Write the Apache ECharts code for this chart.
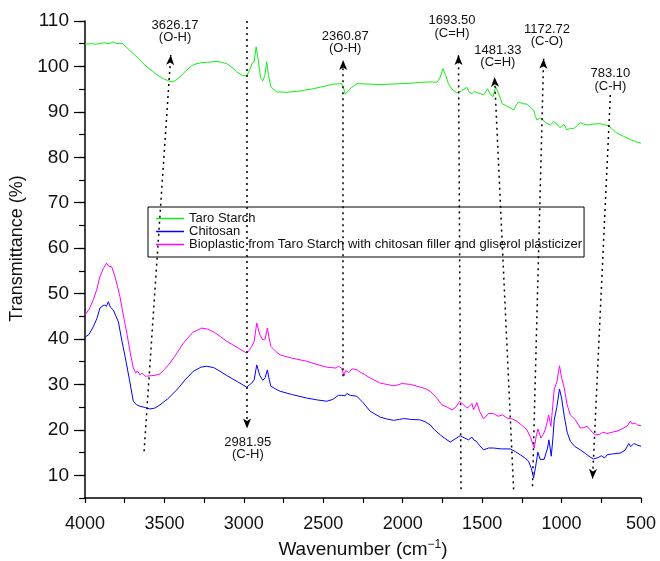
<!DOCTYPE html>
<html>
<head>
<meta charset="utf-8">
<script src="https://cdn.jsdelivr.net/npm/echarts@6/dist/echarts.min.js"></script>
<style>
  html, body { margin: 0; padding: 0; background: #fff; }
  #main { width: 660px; height: 561px; }
</style>
</head>
<body>
<div id="main"></div>
<script>
// FTIR spectra, [wavenumber, transmittance]
const taroStarch = [
  [4000,104.9],[3960,105.0],[3930,104.9],[3905,105.0],[3880,105.2],[3850,105.0],[3822,105.4],[3800,105.0],[3780,105.1],[3759,104.9],
  [3730,103.9],[3696,102.8],[3665,101.8],[3633,100.6],[3600,99.6],[3570,98.8],[3540,98.0],[3507,97.3],[3480,96.9],[3454,96.6],
  [3430,96.9],[3402,97.7],[3360,99.2],[3318,100.4],[3270,100.8],[3234,100.9],[3170,101.1],[3140,100.9],[3108,100.6],[3075,99.8],
  [3045,98.8],[3010,98.0],[2982,97.9],[2960,99.5],[2950,100.6],[2935,101.0],[2923,104.3],[2910,101.5],[2895,97.5],[2881,96.8],
  [2868,98.0],[2856,101.0],[2845,98.0],[2830,95.5],[2793,94.4],[2730,94.3],[2667,94.5],[2562,95.1],[2436,96.1],[2383,96.2],
  [2370,95.0],[2362,93.9],[2345,94.5],[2331,95.1],[2289,96.2],[2205,96.1],[2142,96.0],[2080,96.1],[2016,96.2],[1950,96.3],
  [1890,96.5],[1820,96.6],[1785,96.5],[1765,97.5],[1747,99.5],[1730,98.0],[1712,96.2],[1690,95.0],[1659,94.2],[1630,94.6],
  [1596,95.4],[1580,94.3],[1564,94.0],[1550,94.5],[1533,94.2],[1510,94.0],[1491,93.7],[1475,94.5],[1466,95.1],[1450,94.0],
  [1432,93.3],[1415,95.5],[1403,95.9],[1390,93.5],[1375,91.8],[1340,91.2],[1302,90.4],[1285,91.5],[1271,92.2],[1245,91.8],
  [1218,91.7],[1195,91.0],[1176,90.4],[1165,89.0],[1155,88.2],[1140,88.6],[1124,88.5],[1100,87.6],[1071,87.1],[1050,87.8],
  [1029,87.3],[1010,86.5],[998,86.6],[985,87.2],[966,86.0],[945,86.4],[924,86.3],[900,87.0],[882,87.6],[860,87.3],
  [840,87.1],[800,87.3],[756,87.4],[704,86.9],[680,86.2],[651,85.3],[610,84.6],[567,83.9],[530,83.4],[500,83.1]
];
const chitosan = [
  [4000,40.4],[3975,41.0],[3948,42.7],[3925,44.5],[3906,46.8],[3880,47.5],[3865,47.2],[3853,48.2],[3840,47.0],[3822,46.4],
  [3805,45.0],[3790,43.8],[3770,40.0],[3748,36.2],[3720,31.0],[3696,26.3],[3675,25.5],[3654,25.2],[3620,24.9],[3591,24.6],
  [3560,24.8],[3528,25.5],[3480,26.8],[3422,28.8],[3370,31.0],[3318,32.9],[3270,33.8],[3234,34.0],[3190,33.7],[3150,32.9],
  [3100,31.8],[3040,30.6],[2982,29.4],[2965,29.9],[2950,30.3],[2935,31.0],[2919,34.3],[2900,32.0],[2881,30.9],[2866,31.5],
  [2852,33.2],[2840,31.0],[2830,29.6],[2800,29.0],[2772,28.5],[2700,27.8],[2604,27.0],[2540,26.6],[2478,26.3],[2440,26.7],
  [2405,27.6],[2385,27.6],[2373,27.2],[2362,27.5],[2352,28.0],[2330,27.6],[2289,27.4],[2250,26.0],[2205,24.1],[2142,22.8],
  [2100,22.4],[2058,22.1],[2020,22.3],[1995,22.5],[1950,22.3],[1890,22.2],[1860,21.8],[1827,21.1],[1800,20.0],[1764,18.9],
  [1730,18.0],[1701,17.3],[1670,18.0],[1638,18.7],[1610,18.2],[1586,17.8],[1564,18.4],[1550,17.7],[1537,17.5],[1515,16.5],
  [1491,15.6],[1460,16.0],[1428,16.0],[1380,15.8],[1323,15.8],[1290,15.2],[1260,14.5],[1230,13.8],[1208,13.1],[1190,11.5],
  [1176,9.4],[1163,12.0],[1149,15.1],[1135,13.5],[1124,13.1],[1110,13.5],[1098,13.8],[1088,16.0],[1080,17.8],[1072,16.0],
  [1065,14.2],[1055,18.0],[1046,22.2],[1030,25.0],[1013,29.0],[1000,27.0],[983,23.0],[965,19.5],[945,17.5],[915,16.3],
  [882,15.6],[850,14.8],[820,14.0],[798,13.6],[770,13.9],[750,14.3],[730,13.8],[714,14.5],[680,14.7],[630,14.9],
  [600,15.5],[577,17.0],[565,16.3],[557,16.4],[545,17.0],[536,17.0],[520,16.6],[500,16.4]
];
const bioplastic = [
  [4000,45.3],[3975,46.5],[3948,48.6],[3925,51.0],[3906,53.7],[3885,55.5],[3864,56.7],[3850,56.0],[3832,55.9],[3811,53.7],
  [3795,51.5],[3780,49.3],[3760,45.5],[3737,41.3],[3715,37.0],[3696,33.6],[3680,32.5],[3670,33.0],[3654,32.1],[3640,32.5],
  [3620,31.8],[3591,31.9],[3560,32.0],[3528,32.3],[3500,33.3],[3465,34.7],[3420,37.0],[3381,39.1],[3320,41.5],[3265,42.4],
  [3230,42.2],[3192,41.6],[3150,40.6],[3108,39.5],[3050,38.3],[2982,36.9],[2965,37.6],[2950,38.4],[2935,39.5],[2919,43.5],
  [2900,41.0],[2881,39.8],[2866,40.0],[2852,42.4],[2840,40.0],[2830,38.4],[2800,37.3],[2772,36.5],[2700,35.8],[2604,35.1],
  [2540,34.4],[2478,33.8],[2420,33.6],[2405,34.0],[2385,33.6],[2369,31.9],[2360,33.1],[2352,33.1],[2340,32.6],[2320,33.4],
  [2290,33.3],[2268,32.7],[2240,32.2],[2205,31.4],[2142,30.3],[2100,30.0],[2058,29.7],[2030,29.9],[2005,30.2],[1950,30.0],
  [1890,29.4],[1860,29.1],[1827,28.5],[1790,27.2],[1753,25.5],[1720,25.0],[1690,24.4],[1665,25.0],[1642,26.3],[1620,25.6],
  [1596,24.8],[1580,25.2],[1564,25.8],[1554,24.4],[1533,26.0],[1515,24.0],[1491,22.4],[1460,23.6],[1428,23.6],[1400,23.0],
  [1370,23.3],[1344,22.6],[1310,22.4],[1281,21.9],[1250,21.0],[1218,20.0],[1195,18.3],[1172,16.0],[1160,18.5],[1149,20.2],
  [1130,18.2],[1115,19.0],[1103,20.0],[1090,21.8],[1082,23.3],[1067,20.8],[1046,29.0],[1030,30.5],[1013,34.1],[1000,31.5],
  [983,29.2],[965,25.5],[945,23.3],[915,22.3],[882,20.4],[860,20.5],[840,20.8],[815,19.8],[788,18.9],[760,19.0],
  [740,19.5],[714,19.2],[680,19.5],[651,19.7],[620,20.2],[588,20.8],[567,21.9],[555,21.3],[548,21.7],[536,21.5],
  [520,21.0],[500,20.9]
];

const seriesNames = ['Taro Starch', 'Chitosan', 'Bioplastic from Taro Starch with chitosan filler and gliserol plasticizer'];

// peak annotations: dotted line from -> arrow tip, label position
const peakLabels = ['3626.17\n(O-H)', '2981.95\n(C-H)', '2360.87\n(O-H)', '1693.50\n(C=H)', '1481.33\n(C=H)', '1172.72\n(C-O)', '783.10\n(C-H)'];
const peakFrom = [[3628,15.3],[2980,110],[2375,31.8],[1633,6.9],[1302,6.9],[1183,7.6],[693,93.7]];
const peakTo = [[3460,102.5],[2980,20.3],[2375,101.4],[1649,102.5],[1422,97.7],[1113,101.7],[805,9.2]];
const peakLabelAt = [[3433,107.7],[2975,15.9],[2362,105.3],[1690,108.7],[1401,102.2],[1092,106.8],[693,97.0]];

const xTicks = [4000, 3500, 3000, 2500, 2000, 1500, 1000, 500];
const yTicks = [10, 20, 30, 40, 50, 60, 70, 80, 90, 100, 110];

const font = 'Liberation Sans';
const chart = echarts.init(document.getElementById('main'));

const option = {
  animation: false,
  textStyle: { fontFamily: font },
  grid: { left: 85, right: 19, top: 21, bottom: 63, containLabel: false, outerBoundsMode: 'none' },
  legend: {
    data: seriesNames,
    orient: 'vertical',
    left: 148,
    top: 207,
    padding: [5, 2, 6, 8],
    itemGap: 0,
    itemWidth: 28,
    itemHeight: 1.5,
    icon: 'rect',
    borderColor: '#000',
    borderWidth: 1,
    borderRadius: 0,
    backgroundColor: '#fff',
    textStyle: { fontFamily: font, fontSize: 13, lineHeight: 13, color: '#111', padding: [0, 0, 0, 0] }
  },
  xAxis: {
    type: 'value',
    inverse: true,
    min: 500,
    max: 4000,
    interval: 250,
    name: 'Wavenumber (cm{sup|\u22121})',
    nameLocation: 'middle',
    nameGap: 41,
    nameTextStyle: {
      fontFamily: font, fontSize: 19, color: '#111',
      rich: { sup: { fontFamily: font, fontSize: 12, color: '#111', padding: [0, 0, 10, 0] } }
    },
    axisLine: { onZero: false, lineStyle: { color: '#000', width: 1.5 } },
    axisTick: { length: 5, lineStyle: { color: '#000', width: 1.2 } },
    axisLabel: {
      fontSize: 18, color: '#111', margin: 17,
      formatter: v => (xTicks.indexOf(v) >= 0 ? String(v) : '')
    },
    splitLine: { show: false }
  },
  yAxis: [{
    type: 'value',
    min: 5,
    max: 110,
    name: 'Transmittance (%)',
    nameLocation: 'middle',
    nameGap: 52,
    nameTextStyle: { fontFamily: font, fontSize: 18, color: '#111', padding: [0, 0, 0, 22] },
    axisLine: { show: true, onZero: false, lineStyle: { color: '#000', width: 1.5 } },
    axisTick: { show: true, length: 11, customValues: yTicks, lineStyle: { color: '#000', width: 1.2 } },
    axisLabel: { fontSize: 19, color: '#111', margin: 16, customValues: yTicks },
    splitLine: { show: false }
  }, {
    type: 'value',
    position: 'left',
    min: 5,
    max: 110,
    interval: 5,
    axisLine: { show: false },
    axisTick: { show: true, length: 6, lineStyle: { color: '#000', width: 1.2 } },
    axisLabel: { show: false },
    splitLine: { show: false }
  }],
  series: [
    {
      name: seriesNames[0],
      type: 'line',
      data: taroStarch,
      showSymbol: false,
      color: '#11ee11',
      lineStyle: { width: 1 },
      markLine: {
        silent: true,
        symbol: ['none', 'arrow'],
        symbolSize: [6, 10],
        label: { show: false },
        lineStyle: { color: '#000', type: [2, 4], width: 1.5 },
        data: peakFrom.map((p, i) => [{ coord: p }, { coord: peakTo[i] }])
      },
      markPoint: {
        silent: true,
        symbol: 'circle',
        symbolSize: 0,
        label: {
          show: true,
          position: 'inside',
          fontFamily: font,
          fontSize: 13,
          lineHeight: 12.5,
          color: '#111',
          formatter: p => p.name
        },
        data: peakLabelAt.map((p, i) => ({ name: peakLabels[i], coord: p }))
      }
    },
    {
      name: seriesNames[1],
      type: 'line',
      data: chitosan,
      showSymbol: false,
      color: '#0000ff',
      lineStyle: { width: 1 }
    },
    {
      name: seriesNames[2],
      type: 'line',
      data: bioplastic,
      showSymbol: false,
      color: '#ff00ff',
      lineStyle: { width: 1 }
    }
  ]
};

chart.setOption(option);
</script>
</body>
</html>
